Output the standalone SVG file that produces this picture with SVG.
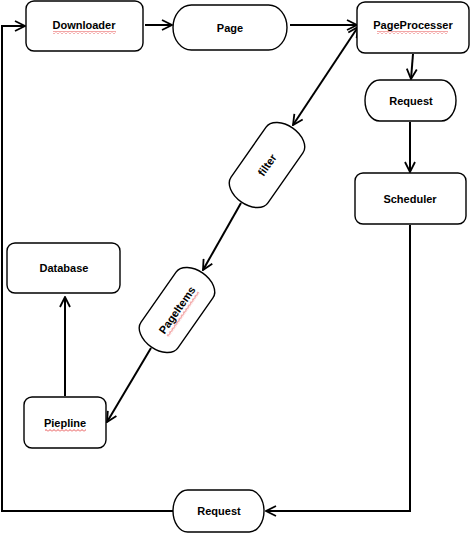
<svg xmlns="http://www.w3.org/2000/svg" width="470" height="533" viewBox="0 0 470 533">
<defs>
<marker id="arr" viewBox="0 0 12 12" refX="11" refY="6" markerWidth="12" markerHeight="12" markerUnits="userSpaceOnUse" orient="auto-start-reverse">
<path d="M1,1 L11,6 L1,11" fill="none" stroke="#000" stroke-width="1.8"/>
</marker>
<pattern id="squig" width="4" height="3" patternUnits="userSpaceOnUse">
<path d="M0,2.5 L2,0.5 L4,2.5" fill="none" stroke="#e02020" stroke-width="0.8"/>
</pattern>
<style>
.box{fill:#fff;stroke:#000;stroke-width:1.4}
.t{font-family:"Liberation Sans",Arial,sans-serif;font-size:11px;font-weight:bold;text-anchor:middle;fill:#000}
.c{fill:none;stroke:#000;stroke-width:2}
</style>
</defs>
<rect width="470" height="533" fill="#fff"/>
<g id="connectors">
<path class="c" d="M145,25 L172,25" marker-end="url(#arr)"/>
<path class="c" d="M290,25 L357,25" marker-end="url(#arr)"/>
<path class="c" d="M413,54 L411,79" marker-end="url(#arr)"/>
<path class="c" d="M410,122 L410,172" marker-end="url(#arr)"/>
<path class="c" d="M410,225 L410,511 L266,511" marker-end="url(#arr)"/>
<path class="c" d="M173,511 L2,511 L2,26 L25,26" marker-end="url(#arr)"/>
<path class="c" d="M358,27 L293,125" marker-start="url(#arr)" marker-end="url(#arr)"/>
<path class="c" d="M241,203 L203,270" marker-end="url(#arr)"/>
<path class="c" d="M151,348 L107,422" marker-end="url(#arr)"/>
<path class="c" d="M65,396 L65,297" marker-end="url(#arr)"/>
</g>
<g id="downloader">
<rect class="box" x="26" y="1" width="117" height="50" rx="8"/>
<text class="t" x="84" y="29">Downloader</text>
<rect x="53" y="31" width="63" height="3" fill="url(#squig)"/>
</g>
<g id="page">
<rect class="box" x="173" y="5" width="114" height="45" rx="18.4" ry="22.5"/>
<text class="t" x="230" y="32">Page</text>
</g>
<g id="pageprocesser">
<rect class="box" x="357" y="2" width="112" height="51" rx="8"/>
<text class="t" x="413" y="29">PageProcesser</text>
<rect x="377" y="31" width="71" height="3" fill="url(#squig)"/>
</g>
<g id="request1">
<rect class="box" x="365" y="80" width="91" height="41" rx="14.7" ry="20.5"/>
<text class="t" x="411" y="105">Request</text>
</g>
<g id="scheduler">
<rect class="box" x="355" y="173" width="111" height="51" rx="8"/>
<text class="t" x="410" y="203">Scheduler</text>
</g>
<g id="filter" transform="translate(267,165) rotate(-55)">
<rect class="box" x="-45" y="-22.5" width="90" height="45" rx="14.5" ry="22.5"/>
<text class="t" x="0" y="4">filter</text>
</g>
<g id="pageitems" transform="translate(177,310) rotate(-55)">
<rect class="box" x="-45" y="-22.5" width="90" height="45" rx="14.5" ry="22.5"/>
<text class="t" x="0" y="4">PageItems</text>
<rect x="-27" y="6" width="54" height="3" fill="url(#squig)"/>
</g>
<g id="database">
<rect class="box" x="7" y="243" width="113" height="50" rx="8"/>
<text class="t" x="64" y="272">Database</text>
</g>
<g id="piepline">
<rect class="box" x="24" y="397" width="82" height="51" rx="8"/>
<text class="t" x="65" y="427">Piepline</text>
<rect x="45" y="429" width="41" height="3" fill="url(#squig)"/>
</g>
<g id="request2">
<rect class="box" x="173" y="490" width="91" height="42" rx="14.7" ry="21"/>
<text class="t" x="219" y="515">Request</text>
</g>
</svg>
